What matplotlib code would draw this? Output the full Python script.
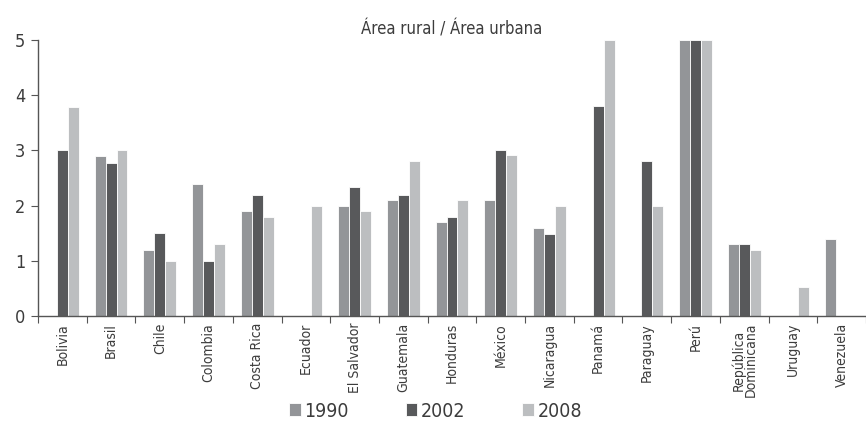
import matplotlib
matplotlib.use("Agg")
import matplotlib.pyplot as plt
import numpy as np
from matplotlib.font_manager import fontManager

names = {f.name for f in fontManager.ttflist}
fam = ['Liberation Sans Narrow', 'DejaVu Sans'] if 'Liberation Sans Narrow' in names else ['DejaVu Sans']
plt.rcParams['font.family'] = fam
if 'Liberation Sans Narrow' not in names:
    plt.rcParams['font.stretch'] = 'condensed'

categories = ["Bolivia", "Brasil", "Chile", "Colombia", "Costa Rica", "Ecuador",
              "El Salvador", "Guatemala", "Honduras", "México", "Nicaragua",
              "Panamá", "Paraguay", "Perú", "República\nDominicana", "Uruguay", "Venezuela"]
nan = np.nan
v1990 = [nan, 2.9, 1.2, 2.4, 1.9, nan, 2.0, 2.1, 1.7, 2.1, 1.6, nan, nan, 5.0, 1.3, nan, 1.4]
v2002 = [3.0, 2.78, 1.5, 1.0, 2.2, nan, 2.33, 2.2, 1.8, 3.0, 1.48, 3.8, 2.8, 5.0, 1.3, nan, nan]
v2008 = [3.78, 3.0, 1.0, 1.3, 1.8, 2.0, 1.9, 2.8, 2.1, 2.92, 2.0, 5.0, 2.0, 5.0, 1.2, 0.52, nan]
series = [("1990", v1990, "#939598"), ("2002", v2002, "#58595b"), ("2008", v2008, "#bcbec0")]

txt = "#3c3c3c"
fig = plt.figure(figsize=(8.66, 4.23), dpi=100)
ax = fig.add_axes([38/866, 107/423, (866-38)/866, 276/423])
x = np.arange(len(categories))
w = 0.225
for i, (lab, vals, col) in enumerate(series):
    ax.bar(x + (i - 1) * w, vals, width=w, color=col, edgecolor="white", linewidth=0.6, label=lab)

ax.set_xlim(-0.5, len(categories) - 0.56)
ax.set_ylim(0, 5)
ax.set_yticks([0, 1, 2, 3, 4, 5])
ax.set_xticks(np.arange(-0.5, len(categories) - 0.5 + 0.01, 1), minor=False, labels=[])
ax.set_xticks(x, minor=True, labels=categories)
ax.tick_params(axis='x', which='minor', length=0, rotation=90, labelsize=10, pad=5, colors=txt)
for t in ax.get_xticklabels(minor=True):
    t.set_linespacing(0.85)
ax.tick_params(axis='x', which='major', length=5, color="#555555")
ax.tick_params(axis='y', length=5, labelsize=13, color="#555555", labelcolor=txt, pad=4)
for s in ("top", "right"):
    ax.spines[s].set_visible(False)
for s in ("left", "bottom"):
    ax.spines[s].set_color("#555555")
    ax.spines[s].set_linewidth(1.0)

ax.set_title("Área rural / Área urbana", fontsize=12, color=txt, pad=4)

leg = fig.legend(loc="center", bbox_to_anchor=(0.503, 1 - 411/423), ncol=3, frameon=False,
                 fontsize=14, handlelength=0.6, handleheight=0.6, handletextpad=0.2,
                 columnspacing=2.9, labelcolor=txt)
fig.savefig("out.png", dpi=100)
